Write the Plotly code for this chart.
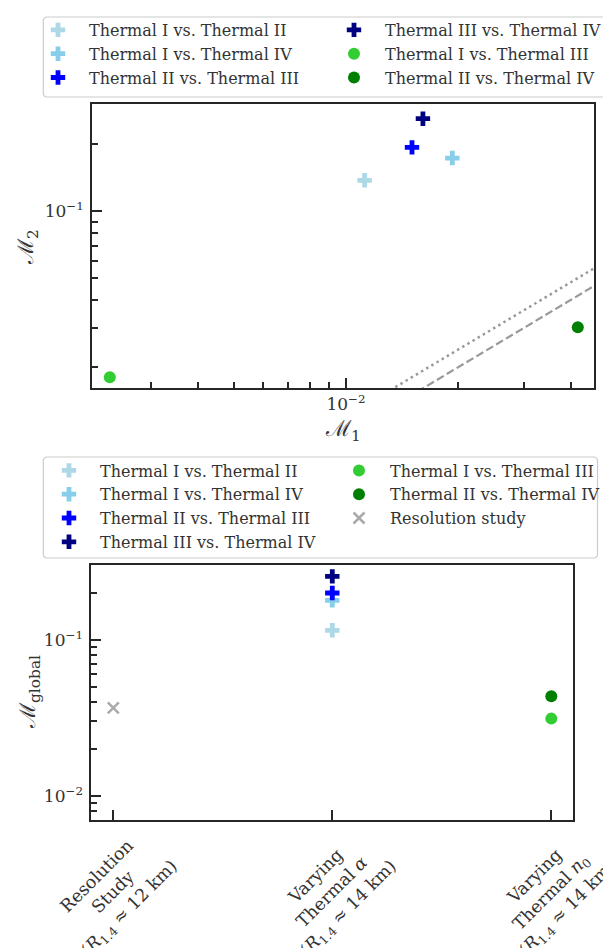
import plotly.graph_objects as go

# ---------------- data ----------------
pair_labels = ["Thermal I vs. Thermal II", "Thermal I vs. Thermal IV",
               "Thermal II vs. Thermal III", "Thermal III vs. Thermal IV",
               "Thermal I vs. Thermal III", "Thermal II vs. Thermal IV"]
pair_colors = ["#ADD8E6", "#87CEEB", "#0000FF", "#000080", "#32CD32", "#008000"]
pair_symbols = ["cross", "cross", "cross", "cross", "circle", "circle"]

m1_values = [0.01122, 0.01928, 0.01503, 0.01608, 0.002327, 0.04183]
m2_values = [0.1377, 0.1733, 0.1936, 0.2602, 0.01803, 0.0302]

categories = [
    "Resolution<br>Study<br>(<i>R</i><sub>1.4</sub> ≈ 12 km)",
    "Varying<br>Thermal <i>α</i><br>(<i>R</i><sub>1.4</sub> ≈ 14 km)",
    "Varying<br>Thermal <i>n</i><sub>0</sub><br>(<i>R</i><sub>1.4</sub> ≈ 14 km)",
]
pair_category = [1, 1, 1, 1, 2, 2]
mglobal_values = [0.1149, 0.1789, 0.1993, 0.2547, 0.0312, 0.0434]
resolution_label = "Resolution study"
resolution_category = 0
resolution_value = 0.0365

ref_x = [0.001, 0.1]
dashed_ratio = 1.0
dotted_ratio = 1.2

top_legend_order = [0, 3, 1, 4, 2, 5]
bottom_legend_order = [0, 4, 1, 5, 2, "res", 3]

# ---------------- style ----------------
W, H = 611, 948
FONT = "DejaVu Serif"
TXT = "#333333"
AXC = "#262626"

def px_x(v):
    return v / W

def px_y(v):
    return 1 - v / H

fig = go.Figure()

# reference lines (top)
fig.add_trace(go.Scatter(x=ref_x, y=[v * dotted_ratio for v in ref_x], mode="lines",
                         line=dict(color="#999999", width=2.5, dash="2.5px,3.5px"),
                         showlegend=False, hoverinfo="skip", xaxis="x", yaxis="y"))
fig.add_trace(go.Scatter(x=ref_x, y=[v * dashed_ratio for v in ref_x], mode="lines",
                         line=dict(color="#999999", width=2.2, dash="8px,3.5px"),
                         showlegend=False, hoverinfo="skip", xaxis="x", yaxis="y"))

MSIZE = 12

for i in top_legend_order:
    fig.add_trace(go.Scatter(
        x=[m1_values[i]], y=[m2_values[i]], mode="markers", name=pair_labels[i],
        marker=dict(symbol=pair_symbols[i], color=pair_colors[i], size=MSIZE,
                    line=dict(width=0)),
        xaxis="x", yaxis="y", legend="legend"))

for i in bottom_legend_order:
    if i == "res":
        fig.add_trace(go.Scatter(
            x=[resolution_category], y=[resolution_value], mode="markers", name=resolution_label,
            marker=dict(symbol="x-thin", color="#AAAAAA", size=11,
                        line=dict(width=2.5, color="#AAAAAA")),
            xaxis="x2", yaxis="y2", legend="legend2"))
    else:
        fig.add_trace(go.Scatter(
            x=[pair_category[i]], y=[mglobal_values[i]], mode="markers", name=pair_labels[i],
            marker=dict(symbol=pair_symbols[i], color=pair_colors[i], size=MSIZE,
                        line=dict(width=0)),
            xaxis="x2", yaxis="y2", legend="legend2"))

axis_common = dict(showline=True, linewidth=2, linecolor=AXC, mirror=True,
                   ticks="inside", ticklen=10, tickwidth=2, tickcolor=AXC,
                   showgrid=False, zeroline=False,
                   tickfont=dict(family=FONT, size=17, color=TXT))

minor_common = dict(ticks="inside", ticklen=6, tickwidth=1.5, tickcolor=AXC, showgrid=False)

fig.update_layout(
    width=W, height=H,
    margin=dict(l=0, r=0, t=0, b=0),
    paper_bgcolor="white", plot_bgcolor="white",
    xaxis=dict(domain=[px_x(84.2), px_x(586.4)], anchor="y", type="log",
               range=[-2.6804, -1.334],
               tickmode="array", tickvals=[0.01], ticktext=["10<sup>−2</sup>"],
               minor=dict(tickmode="array",
                          tickvals=[0.003, 0.004, 0.005, 0.006, 0.007, 0.008, 0.009, 0.02, 0.03, 0.04],
                          **minor_common),
               **axis_common),
    yaxis=dict(domain=[px_y(380), px_y(96)], anchor="x", type="log",
               range=[-1.7924, -0.5188], ticklabelstandoff=3,
               tickmode="array", tickvals=[0.1], ticktext=["10<sup>−1</sup>"],
               minor=dict(tickmode="array",
                          tickvals=[0.02, 0.03, 0.04, 0.05, 0.06, 0.07, 0.08, 0.09, 0.2],
                          **minor_common),
               **axis_common),
    xaxis2=dict(domain=[px_x(83.4), px_x(565.2)], anchor="y2",
                range=[-0.1, 2.1], tickmode="array", tickvals=[0, 1, 2],
                showticklabels=False, **axis_common),
    yaxis2=dict(domain=[px_y(811.7), px_y(556.7)], anchor="x2", type="log",
                range=[-2.1538, -0.5192], ticklabelstandoff=3,
                tickmode="array", tickvals=[0.01, 0.1], ticktext=["10<sup>−2</sup>", "10<sup>−1</sup>"],
                minor=dict(tickmode="array",
                           tickvals=[0.008, 0.009, 0.02, 0.03, 0.04, 0.05, 0.06, 0.07, 0.08, 0.09, 0.2],
                           **minor_common),
                **axis_common),
    legend=dict(orientation="h", x=px_x(30), y=px_y(5), xanchor="left", yanchor="top",
                bgcolor="rgba(0,0,0,0)", borderwidth=0, itemwidth=52,
                entrywidth=229, entrywidthmode="pixels", traceorder="normal",
                font=dict(family=FONT, size=16, color=TXT)),
    legend2=dict(orientation="h", x=px_x(30), y=px_y(445.5), xanchor="left", yanchor="top",
                 bgcolor="rgba(0,0,0,0)", borderwidth=0, itemwidth=52,
                 entrywidth=223, entrywidthmode="pixels", traceorder="normal",
                 font=dict(family=FONT, size=16, color=TXT)),
)

# legend frames (rounded)
def rounded_rect(x0, y0, x1, y1, r=4):
    X0, X1 = px_x(x0), px_x(x1)
    Y0, Y1 = px_y(y0), px_y(y1)
    rx, ry = r / W, r / H
    return (f"M {X0+rx},{Y0} L {X1-rx},{Y0} Q {X1},{Y0} {X1},{Y0-ry} "
            f"L {X1},{Y1+ry} Q {X1},{Y1} {X1-rx},{Y1} L {X0+rx},{Y1} "
            f"Q {X0},{Y1} {X0},{Y1+ry} L {X0},{Y0-ry} Q {X0},{Y0} {X0+rx},{Y0} Z")

for box in [(35.3, 9, 609, 89), (35.3, 449, 589.5, 550)]:
    fig.add_shape(type="path", path=rounded_rect(*box), xref="paper", yref="paper",
                  line=dict(color="#CCCCCC", width=1.2), fillcolor="white", layer="below")

# axis titles
fig.add_annotation(text="ℳ<sub>1</sub>", x=px_x(335), y=px_y(422), xref="paper", yref="paper",
                   xanchor="center", yanchor="middle",
                   showarrow=False, font=dict(family=FONT, size=22, color=TXT))
fig.add_annotation(text="ℳ<sub>2</sub>", x=px_x(20), y=px_y(239), xref="paper", yref="paper",
                   xanchor="center", yanchor="middle",
                   showarrow=False, textangle=-90, font=dict(family=FONT, size=22, color=TXT))
fig.add_annotation(text="ℳ<sub>global</sub>", x=px_x(21), y=px_y(684), xref="paper", yref="paper",
                   xanchor="center", yanchor="middle",
                   showarrow=False, textangle=-90, font=dict(family=FONT, size=22, color=TXT))

# rotated category labels
for k, lab in enumerate(categories):
    fig.add_annotation(text=lab, x=k, xref="x2", y=px_y(813), yref="paper",
                       xanchor="center", yanchor="top", showarrow=False, textangle=-45,
                       align="center", font=dict(family=FONT, size=17.5, color=TXT))

fig.write_html("out.html")
